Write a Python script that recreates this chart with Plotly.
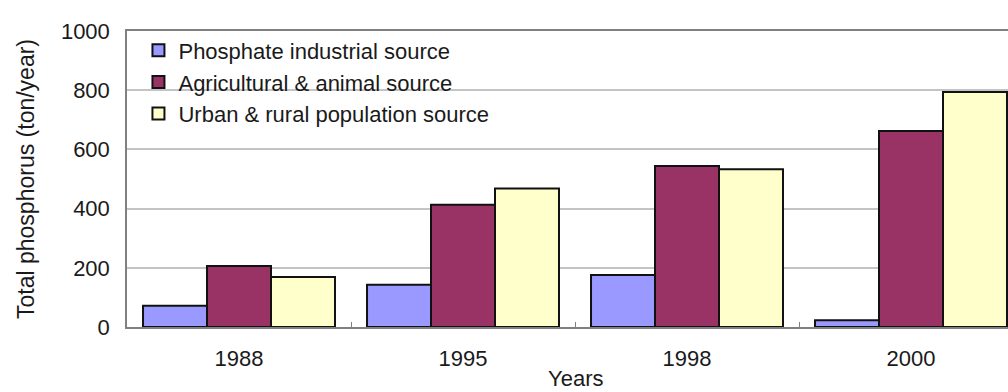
import plotly.graph_objects as go

# Total phosphorus loads by source
years = ["1988", "1995", "1998", "2000"]
phosphate_industrial = [72, 143, 176, 23]
agricultural_animal = [206, 413, 544, 662]
urban_rural = [169, 468, 533, 794]

series_names = [
    "Phosphate industrial source",
    "Agricultural & animal source",
    "Urban & rural population source",
]
series_values = [phosphate_industrial, agricultural_animal, urban_rural]
series_colors = ["#9999FF", "#993366", "#FFFFCC"]

y_ticks = [0, 200, 400, 600, 800, 1000]

FONT = "Liberation Sans, Arial, sans-serif"
TEXT = "#1a1a1a"

fig = go.Figure()
for name, vals, col in zip(series_names, series_values, series_colors):
    fig.add_trace(go.Bar(
        x=years, y=vals, name=name,
        marker=dict(color=col, line=dict(color="#111111", width=2)),
    ))

fig.update_layout(
    width=1008, height=392,
    margin=dict(l=127, r=0, t=31, b=65),
    paper_bgcolor="white", plot_bgcolor="white",
    barmode="group", bargap=0.143, bargroupgap=0,
    font=dict(family=FONT, size=22, color=TEXT),
    showlegend=True,
    legend=dict(
        x=0.013, y=1.005, xanchor="left", yanchor="top",
        bgcolor="rgba(0,0,0,0)", borderwidth=0,
        font=dict(family=FONT, size=22, color=TEXT),
        tracegroupgap=0,
    ),
)

fig.update_xaxes(
    type="category",
    range=[-0.5, 3.433],
    showgrid=False,
    showline=True, linecolor="#808080", linewidth=1.5, mirror=True,
    ticks="inside", tickson="boundaries", ticklen=5, tickcolor="#808080",
    ticklabelstandoff=11,
    tickfont=dict(family=FONT, size=22, color=TEXT),
)

fig.update_yaxes(
    range=[0, 1000],
    tickvals=y_ticks,
    ticktext=[str(v) for v in y_ticks],
    showgrid=True, gridcolor="#c4c4c4", gridwidth=1.5,
    showline=True, linecolor="#808080", linewidth=1.5,
    zeroline=False,
    ticks="", ticklabelstandoff=11,
    tickfont=dict(family=FONT, size=22, color=TEXT),
    title=dict(text="Total phosphorus (ton/year)",
               font=dict(family=FONT, size=23, color=TEXT), standoff=20),
)

# white panel behind the legend, hiding the grid in that corner
fig.add_shape(
    type="rect", xref="paper", yref="paper",
    x0=0.003, x1=0.446, y0=0.615, y1=0.99,
    fillcolor="white", line=dict(width=0), layer="between",
)

# x-axis title centred on the full category span
fig.add_annotation(
    text="Years", x=1.5, xref="x", y=0, yref="paper",
    xanchor="center", yanchor="top", yshift=-37, showarrow=False,
    font=dict(family=FONT, size=22, color=TEXT),
)

fig.write_html("out.html")
